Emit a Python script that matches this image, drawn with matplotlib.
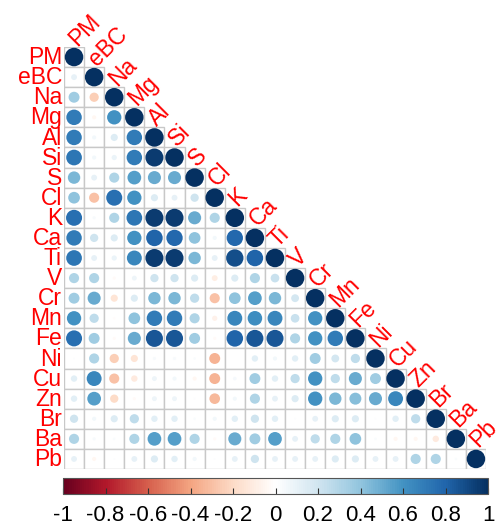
import numpy as np
import matplotlib
matplotlib.use("Agg")
import matplotlib.pyplot as plt
from matplotlib.patches import Circle, Rectangle
from matplotlib.colors import LinearSegmentedColormap, Normalize
from matplotlib.colorbar import ColorbarBase

plt.rcParams['font.family'] = ['Liberation Sans', 'DejaVu Sans']

variables = ["PM", "eBC", "Na", "Mg", "Al", "Si", "S", "Cl", "K", "Ca", "Ti",
             "V", "Cr", "Mn", "Fe", "Ni", "Cu", "Zn", "Br", "Ba", "Pb"]

# lower-triangle correlation coefficients, one list per row
corr_rows = [
    [1],
    [0.10, 1],
    [0.35, -0.25, 1],
    [0.70, -0.05, 0.60, 1],
    [0.70, 0.05, 0.15, 0.70, 1],
    [0.72, 0.05, 0.08, 0.70, 0.95, 1],
    [0.45, 0.10, 0.30, 0.55, 0.50, 0.50, 1],
    [0.40, -0.30, 0.75, 0.60, 0.15, 0.10, 0.20, 1],
    [0.75, 0.03, 0.30, 0.72, 0.95, 0.95, 0.50, 0.30, 1],
    [0.70, 0.20, 0.15, 0.60, 0.80, 0.78, 0.40, 0.05, 0.78, 1],
    [0.72, 0.10, 0.08, 0.65, 0.95, 0.95, 0.45, 0.10, 0.88, 0.80, 1],
    [0.30, 0.30, -0.03, 0.07, 0.20, 0.20, 0.15, -0.10, 0.15, 0.30, 0.22, 1],
    [0.35, 0.50, -0.15, 0.15, 0.45, 0.45, 0.25, -0.30, 0.40, 0.55, 0.45, 0.18, 1],
    [0.60, 0.25, -0.02, 0.40, 0.70, 0.70, 0.30, -0.08, 0.65, 0.62, 0.65, 0.22, 0.60, 1],
    [0.75, 0.35, -0.03, 0.50, 0.85, 0.85, 0.35, -0.03, 0.80, 0.85, 0.85, 0.30, 0.60, 0.70, 1],
    [0.01, 0.30, -0.25, -0.15, 0.03, 0.03, 0.02, -0.35, 0.00, 0.12, 0.05, 0.12, 0.35, 0.18, 0.25, 1],
    [0.12, 0.65, -0.30, -0.12, 0.07, 0.05, -0.05, -0.35, 0.04, 0.35, 0.12, 0.25, 0.60, 0.25, 0.50, 0.35, 1],
    [0.12, 0.55, -0.20, -0.03, 0.07, 0.07, 0.01, -0.33, 0.05, 0.30, 0.10, 0.15, 0.60, 0.45, 0.42, 0.50, 0.65, 1],
    [0.20, 0.05, 0.15, 0.25, 0.12, 0.12, 0.02, 0.05, 0.12, 0.20, 0.12, 0.01, 0.10, 0.15, 0.15, 0.01, 0.12, 0.25, 1],
    [0.30, 0.03, 0.02, 0.30, 0.55, 0.55, 0.30, -0.03, 0.50, 0.35, 0.55, 0.10, 0.25, 0.30, 0.40, 0.02, -0.05, -0.05, -0.12, 1],
    [0.10, -0.05, 0.01, 0.10, 0.15, 0.12, 0.05, 0.01, 0.10, 0.20, 0.10, 0.10, 0.10, 0.15, 0.15, 0.10, 0.10, 0.30, 0.30, 0.02, 1],
]

cbar_ticks = [-1, -0.8, -0.6, -0.4, -0.2, 0, 0.2, 0.4, 0.6, 0.8, 1]
cbar_labels = ["-1", "-0.8", "-0.6", "-0.4", "-0.2", "0", "0.2", "0.4", "0.6", "0.8", "1"]

rdbu = LinearSegmentedColormap.from_list(
    "rdbu", ["#67001F", "#B2182B", "#D6604D", "#F4A582", "#FDDBC7", "#FFFFFF",
             "#D1E5F0", "#92C5DE", "#4393C3", "#2166AC", "#053061"], N=200)
norm = Normalize(-1, 1)

W, H = 496, 531
fig = plt.figure(figsize=(W / 100, H / 100), dpi=100)

n = len(variables)
x0, x1 = 64, 486
y0, y1 = 47, 469
ax = fig.add_axes([x0 / W, 1 - y1 / H, (x1 - x0) / W, (y1 - y0) / H])
ax.set_xlim(-0.5, n - 0.5)
ax.set_ylim(n - 0.5, -0.5)
ax.set_axis_off()

grid_col = "#C8C8C8"
for i, row in enumerate(corr_rows):
    for j, r in enumerate(row):
        ax.add_patch(Rectangle((j - 0.5, i - 0.5), 1, 1, facecolor="white",
                               edgecolor=grid_col, lw=1.0, zorder=1))
for i, row in enumerate(corr_rows):
    for j, r in enumerate(row):
        rad = 0.46 * np.sqrt(abs(r))
        if rad > 0:
            ax.add_patch(Circle((j, i), rad, facecolor=rdbu(norm(r)),
                                edgecolor="none", zorder=2))

label_kw = dict(color="#FF0000", fontsize=16.5, clip_on=False)
for i, name in enumerate(variables):
    ax.text(-0.6, i + 0.03, name, ha="right", va="center", **label_kw)
    ax.text(i - 0.1, i - 0.75, name, ha="left", va="center", rotation=45,
            rotation_mode="anchor", **label_kw)

# colour legend
cax = fig.add_axes([63 / W, 1 - 494 / H, (488 - 63) / W, 16 / H])
cb = ColorbarBase(cax, cmap=rdbu, norm=norm, orientation="horizontal")
cb.outline.set_edgecolor("#555555")
cb.outline.set_linewidth(0.8)
cb.set_ticks(cbar_ticks)
cb.set_ticklabels(cbar_labels)
cax.tick_params(axis="x", direction="in", length=4, width=0.8, color="#333333",
                labelsize=16, pad=8)

fig.savefig("out.png", dpi=100)
